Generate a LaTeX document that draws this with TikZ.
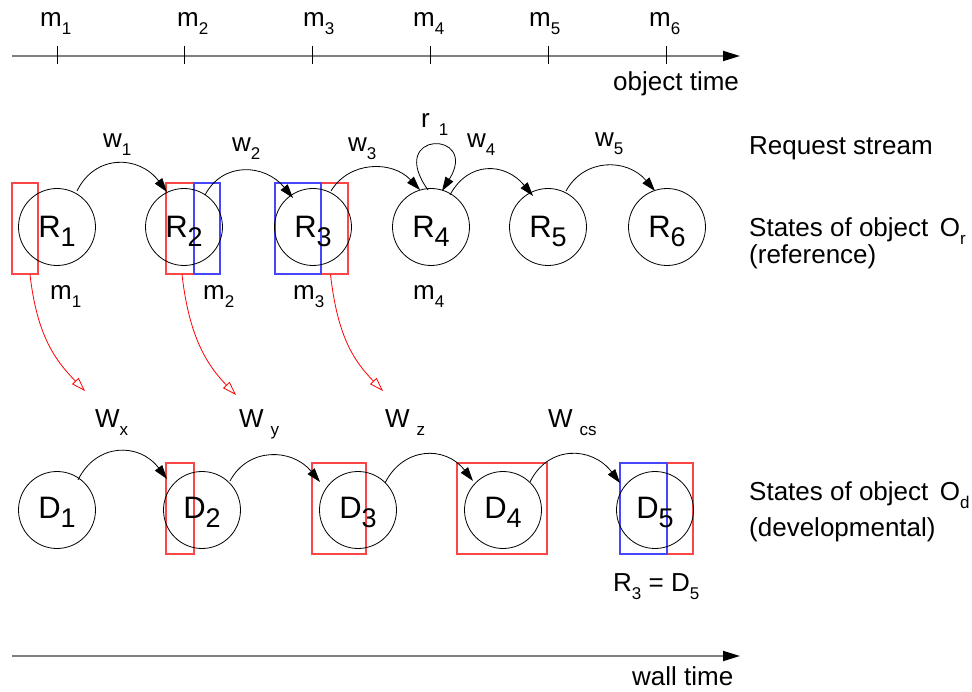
\documentclass[tikz,border=0pt]{standalone}
\usepackage{fontspec}
\setmainfont{Liberation Sans}
\usetikzlibrary{arrows.meta}
\newcommand\ssb[1]{\raisebox{-8pt}{\fontsize{17}{17}\selectfont #1}}
\newcommand\bsb[1]{\raisebox{-9pt}{\fontsize{27}{27}\selectfont #1}}
\definecolor{boxred}{RGB}{250,70,70}
\definecolor{boxblue}{RGB}{70,70,250}
\begin{document}
\begin{tikzpicture}[x=1pt,y=-1pt,
  lbl/.style={anchor=base west, inner sep=0pt, font=\fontsize{26}{30}\selectfont},
  rstate/.style={circle, draw, minimum size=77pt, inner sep=0pt, line width=0.8pt},
  stlabel/.style={anchor=base, inner sep=0pt, font=\fontsize{31}{36}\selectfont},
  redbox/.style={draw=boxred, line width=1.2pt, rectangle, inner sep=0pt},
  bluebox/.style={draw=boxblue, line width=1.2pt, rectangle, inner sep=0pt},
  trans/.style={-{Triangle[length=14pt,width=9pt]}, line width=0.8pt},
  mapto/.style={draw=red, line width=0.8pt, -{Triangle[open,length=14pt,width=9pt]}},
  axisline/.style={draw=gray, line width=1.8pt, -{Triangle[length=17pt,width=10pt,color=black]}},
  tick/.style={line width=0.8pt},
]
\useasboundingbox (0,0) rectangle (972,692);

% ---------- object time axis ----------
\coordinate (ota) at (12,56);
\coordinate (otb) at (740,56);
\draw[axisline] (ota) -- (otb);
\foreach \x/\i in {57/1,184/2,312/3,430/4,548/5,666/6}{
  \coordinate (tka\i) at (\x,46);
  \coordinate (tkb\i) at (\x,64);
  \draw[tick] (tka\i) -- (tkb\i);
}
\node[lbl] (tm1) at (40,27) {m\ssb{1}};
\node[lbl] (tm2) at (177,27) {m\ssb{2}};
\node[lbl] (tm3) at (303,27) {m\ssb{3}};
\node[lbl] (tm4) at (413,27) {m\ssb{4}};
\node[lbl] (tm5) at (529,27) {m\ssb{5}};
\node[lbl] (tm6) at (649,27) {m\ssb{6}};
\node[lbl] (otl) at (613,91) {object time};

% ---------- boxes (reference row) ----------
\node[redbox, minimum width=26pt, minimum height=91pt] (rb1) at (25,228.5) {};
\node[redbox, minimum width=28pt, minimum height=91pt] (rb2) at (180,228.5) {};
\node[redbox, minimum width=27pt, minimum height=91pt] (rb3) at (334.5,228.5) {};
\node[bluebox, minimum width=26pt, minimum height=91pt] (bb2) at (207,228.5) {};
\node[bluebox, minimum width=46pt, minimum height=91pt] (bb3) at (298,228.5) {};

% ---------- reference states ----------
\foreach \x/\i in {57/1,184/2,313/3,431/4,548/5,667/6}{
  \node[rstate] (R\i) at (\x,227) {};
  \node[stlabel] (R\i l) at (\x,238) {R\bsb{\i}};
}

\draw[trans] ([shift={(20,-36)}]R1.center) .. controls +(18,-37) and +(-28,-37) .. ([shift={(-17,-35)}]R2.center);
\draw[trans] ([shift={(21,-32)}]R2.center) .. controls +(18,-34) and +(-28,-34) .. ([shift={(-20,-29)}]R3.center);
\draw[trans] ([shift={(18,-36)}]R3.center) .. controls +(18,-30) and +(-28,-30) .. ([shift={(-11,-37)}]R4.center);
\draw[trans] ([shift={(19,-32)}]R4.center) .. controls +(18,-34) and +(-28,-34) .. ([shift={(-15,-31)}]R5.center);
\draw[trans] ([shift={(18,-36)}]R5.center) .. controls +(18,-33) and +(-28,-33) .. ([shift={(-12,-36)}]R6.center);
% self loop
\draw[trans] ([shift={(-3,-37)}]R4.center) .. controls +(-43,-60) and +(38,-61) .. ([shift={(11,-36)}]R4.center);

\node[lbl] (w1) at (103,148) {w\ssb{1}};
\node[lbl] (w2) at (232,152) {w\ssb{2}};
\node[lbl] (w3) at (348,152) {w\ssb{3}};
\node[lbl] (w4) at (467,148) {w\ssb{4}};
\node[lbl] (w5) at (595,147) {w\ssb{5}};
\node[lbl] (r1) at (421,128) {r\hspace{9pt}\ssb{1}};

\node[lbl] (bm1) at (50,300) {m\ssb{1}};
\node[lbl] (bm2) at (203,300) {m\ssb{2}};
\node[lbl] (bm3) at (293,300) {m\ssb{3}};
\node[lbl] (bm4) at (413,300) {m\ssb{4}};

\node[lbl] (rs) at (749,155) {Request stream};
\node[lbl] (so1) at (749,237) {States of object\, O\ssb{r}};
\node[lbl] (so2) at (749,264) {(reference)};

% ---------- mapping arrows ----------
\coordinate (e1) at (85,391);
\coordinate (e2) at (236,395);
\coordinate (e3) at (383,391);
\draw[mapto] ([xshift=5pt]rb1.south) .. controls +(7,61) and +(-30,-31) .. (e1);
\draw[mapto] ([xshift=2pt]rb2.south) .. controls +(7,61) and +(-30,-31) .. (e2);
\draw[mapto] ([xshift=-4pt]rb3.south) .. controls +(7,61) and +(-30,-31) .. (e3);

% ---------- boxes (developmental row) ----------
\node[redbox, minimum width=28pt, minimum height=91pt] (rd2) at (180,508.5) {};
\node[redbox, minimum width=54pt, minimum height=91pt] (rd3) at (339,508.5) {};
\node[redbox, minimum width=90pt, minimum height=91pt] (rd4) at (502,508.5) {};
\node[redbox, minimum width=26pt, minimum height=91pt] (rd5) at (680,508.5) {};
\node[bluebox, minimum width=47pt, minimum height=91pt] (bd5) at (643.5,508.5) {};

% ---------- developmental states ----------
\foreach \x/\i in {57/1,202/2,358/3,503/4,655/5}{
  \node[rstate] (D\i) at (\x,510) {};
  \node[stlabel] (D\i l) at (\x,518) {D\bsb{\i}};
}
\draw[trans] ([shift={(21,-30)}]D1.center) .. controls +(18,-37) and +(-28,-37) .. ([shift={(-35,-31)}]D2.center);
\draw[trans] ([shift={(28,-29)}]D2.center) .. controls +(18,-34) and +(-28,-34) .. ([shift={(-38,-28)}]D3.center);
\draw[trans] ([shift={(27,-27)}]D3.center) .. controls +(18,-36) and +(-28,-36) .. ([shift={(-30,-29)}]D4.center);
\draw[trans] ([shift={(27,-28)}]D4.center) .. controls +(18,-37) and +(-28,-37) .. ([shift={(-35,-27)}]D5.center);

\node[lbl] (Wx) at (95,428) {W\ssb{x}};
\node[lbl] (Wy) at (239,428) {W\hspace{7pt}\ssb{y}};
\node[lbl] (Wz) at (385,428) {W\hspace{7pt}\ssb{z}};
\node[lbl] (Wcs) at (548,428) {W\hspace{7pt}\ssb{cs}};

\node[lbl] (eq) at (613,591) {R\ssb{3} = D\ssb{5}};

\node[lbl] (sd1) at (749,500) {States of object\, O\ssb{d}};
\node[lbl] (sd2) at (749,536) {(developmental)};

% ---------- wall time axis ----------
\coordinate (wta) at (12,656);
\coordinate (wtb) at (740,656);
\draw[axisline] (wta) -- (wtb);
\node[lbl] (wtl) at (632,685) {wall time};
\end{tikzpicture}
\end{document}
